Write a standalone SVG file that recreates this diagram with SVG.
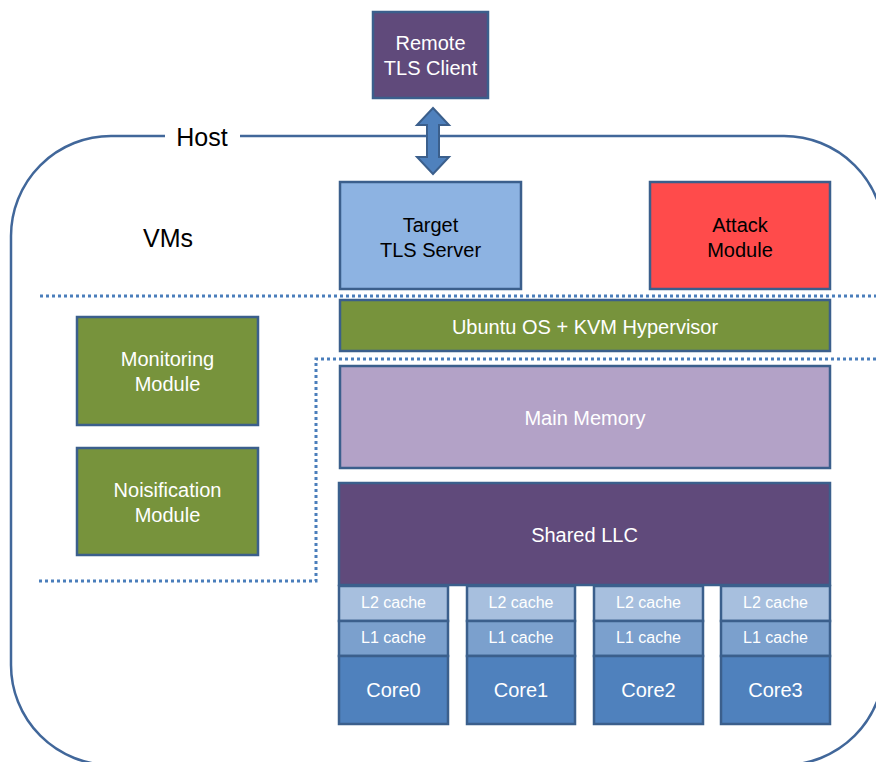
<svg xmlns="http://www.w3.org/2000/svg" width="876" height="762" viewBox="0 0 876 762">
<style>
text{font-family:"Liberation Sans",Arial,sans-serif;text-anchor:middle}
.box{stroke:#3B5F8C;stroke-width:2.5}
.w{fill:#ffffff;font-size:20px}
.b{fill:#000000;font-size:20px}
.s{fill:#ffffff;font-size:16px}
.big{fill:#000000;font-size:25px}
.dot{fill:none;stroke:#4A7EBB;stroke-width:3;stroke-dasharray:3 3}
.green{fill:#77933C}
.l2{fill:#A7BFDE}
.l1{fill:#7BA0CD}
.core{fill:#4F81BD}
</style>
<rect width="876" height="762" fill="#ffffff"/>
<g id="host">
<rect x="11" y="136" width="873" height="629" rx="100" ry="100" fill="none" stroke="#41679A" stroke-width="2.5"/>
<rect x="165" y="122" width="75" height="30" fill="#ffffff"/>
<text class="big" x="202" y="146">Host</text>
</g>
<g id="vms-label"><text class="big" x="168" y="247">VMs</text></g>
<g id="separators">
<path class="dot" d="M40,296 H876"/>
<path class="dot" d="M876,359 H316 V581 H38"/>
</g>
<g id="remote-client">
<rect class="box" x="373" y="12" width="115" height="86" fill="#604A7B"/>
<text class="w" x="430.5" y="50">Remote</text>
<text class="w" x="430.5" y="75">TLS Client</text>
</g>
<g id="target-server">
<rect class="box" x="340" y="182" width="181" height="107" fill="#8DB3E2"/>
<text class="b" x="430.5" y="232">Target</text>
<text class="b" x="430.5" y="257">TLS Server</text>
</g>
<g id="attack-module">
<rect class="box" x="650" y="182" width="180" height="107" fill="#FF4B4B"/>
<text class="b" x="740" y="232">Attack</text>
<text class="b" x="740" y="257">Module</text>
</g>
<g id="hypervisor">
<rect class="box green" x="340" y="300" width="490" height="51"/>
<text class="w" x="585" y="334">Ubuntu OS + KVM Hypervisor</text>
</g>
<g id="monitoring-module">
<rect class="box green" x="77" y="317" width="181" height="108"/>
<text class="w" x="167.5" y="366">Monitoring</text>
<text class="w" x="167.5" y="391">Module</text>
</g>
<g id="noisification-module">
<rect class="box green" x="77" y="448" width="181" height="107"/>
<text class="w" x="167.5" y="497">Noisification</text>
<text class="w" x="167.5" y="522">Module</text>
</g>
<g id="main-memory">
<rect class="box" x="340" y="366" width="490" height="102" fill="#B3A2C7"/>
<text class="w" x="585" y="425">Main Memory</text>
</g>
<g id="shared-llc">
<rect class="box" x="339" y="483" width="491" height="102" fill="#604A7B"/>
<text class="w" x="584.5" y="542">Shared LLC</text>
</g>
<g id="core0">
<rect class="box l2" x="339" y="586" width="109" height="35"/>
<text class="s" x="393.5" y="608">L2 cache</text>
<rect class="box l1" x="339" y="621" width="109" height="35"/>
<text class="s" x="393.5" y="643">L1 cache</text>
<rect class="box core" x="339" y="656" width="109" height="68"/>
<text class="w" x="393.5" y="697">Core0</text>
</g>
<g id="core1">
<rect class="box l2" x="467" y="586" width="108" height="35"/>
<text class="s" x="521" y="608">L2 cache</text>
<rect class="box l1" x="467" y="621" width="108" height="35"/>
<text class="s" x="521" y="643">L1 cache</text>
<rect class="box core" x="467" y="656" width="108" height="68"/>
<text class="w" x="521" y="697">Core1</text>
</g>
<g id="core2">
<rect class="box l2" x="594" y="586" width="109" height="35"/>
<text class="s" x="648.5" y="608">L2 cache</text>
<rect class="box l1" x="594" y="621" width="109" height="35"/>
<text class="s" x="648.5" y="643">L1 cache</text>
<rect class="box core" x="594" y="656" width="109" height="68"/>
<text class="w" x="648.5" y="697">Core2</text>
</g>
<g id="core3">
<rect class="box l2" x="721" y="586" width="109" height="35"/>
<text class="s" x="775.5" y="608">L2 cache</text>
<rect class="box l1" x="721" y="621" width="109" height="35"/>
<text class="s" x="775.5" y="643">L1 cache</text>
<rect class="box core" x="721" y="656" width="109" height="68"/>
<text class="w" x="775.5" y="697">Core3</text>
</g>
<g id="connectors">
<polygon points="433,108 449,125 439,125 439,157 449,157 433,174 417,157 427,157 427,125 417,125" fill="#4F81BD" stroke="#3B5F8C" stroke-width="2"/>
</g>
</svg>
